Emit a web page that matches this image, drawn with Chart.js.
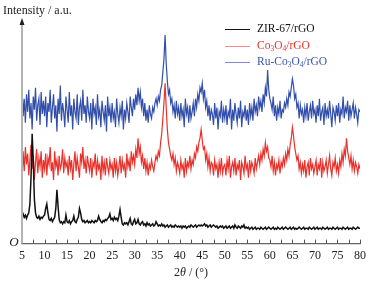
<!DOCTYPE html>
<html lang="en">
<head>
    <meta charset="UTF-8">
    <title>XRD</title>
    <style>
        body{margin:0; background:#fff;}
        #wrap{width:371px; height:282px; position:relative;}
    </style>
</head>
<body>
    <div id="wrap">
        <canvas id="myChart" width="371" height="282"></canvas>
    </div>

    <script src="https://cdn.jsdelivr.net/npm/chart.js"></script>

    <script>
        // 2theta from 5 to 80 deg, step 0.25
        const theta_start = 5;
        const theta_step = 0.25;

        const series_names = ['ZIR-67/rGO', 'Co₃O₄/rGO', 'Ru-Co₃O₄/rGO'];
        const tick_labels = [5, 10, 15, 20, 25, 30, 35, 40, 45, 50, 55, 60, 65, 70, 75, 80];

        const zir_list = [
            12, 13.5, 12, 13, 11.5, 13, 14, 18, 30, 50, 38, 20, 14, 12, 11.5, 12.5, 11, 12, 11.5, 12.5,
            13, 16, 18, 14, 11, 10.5, 11.5, 10, 11, 12, 16, 24.5, 17, 11, 9.5, 10, 9, 10, 9.5, 13,
            10, 9.5, 10.5, 9, 10, 10.5, 12.5, 10, 9.5, 11, 12, 16, 14, 11, 10, 10.5, 9.5, 10, 10.5, 9.5,
            10, 9.5, 10.5, 10, 9.5, 10.5, 10, 10.5, 12.5, 11, 10, 9.5, 10.5, 10, 11, 10.5, 11.5, 12, 13.5, 11,
            11.5, 10.5, 12, 11, 11.5, 10.5, 12.5, 15.5, 12, 9, 8.5, 9.5, 9, 9.5, 8.5, 10, 11.5, 9, 8.5, 10,
            11, 9, 9.5, 11, 9, 8.5, 9.5, 10, 8.5, 9, 8, 9.5, 8.5, 9, 8, 8.5, 9, 8, 8.5, 10,
            9, 8, 8.5, 8, 9, 8, 8.5, 7.5, 8, 8.5, 7.5, 8, 8.5, 7.5, 8, 7.5, 8.5, 8, 7.5, 8,
            7.5, 8, 7, 8, 7.5, 8, 7, 7.5, 8, 7.5, 8.5, 8, 7.5, 8, 8.5, 7.5, 8, 8.5, 8, 8.5,
            8, 8.5, 9, 8, 8.5, 7.5, 8, 8.5, 7.5, 8, 8.5, 8, 7.5, 8, 7, 7.5, 8, 7.5, 8, 7,
            7.5, 8, 7, 7.5, 8, 7, 7.5, 8, 7, 8.5, 7.5, 7, 8, 7.5, 7, 8, 7.5, 8.5, 7, 7.5,
            7, 7.5, 6.5, 7, 7.5, 6.5, 7, 7.5, 6.5, 7, 7, 6.5, 7.5, 7, 6.5, 7, 7.5, 6.5, 7, 7.5,
            7, 6.5, 7, 7.5, 6.5, 7, 6.5, 7.5, 7, 6.5, 7, 7.5, 6.5, 7, 7.5, 7, 6.5, 7, 7.5, 6.5,
            7, 7.5, 6.5, 7, 6.5, 7, 7.5, 7, 6.5, 7, 7.5, 6.5, 7, 7, 6.5, 7.5, 7, 6.5, 7, 7.5,
            6.5, 7, 7.5, 6.5, 7, 7, 6.5, 7.5, 7, 6.5, 7, 7.5, 6.5, 7, 7, 6.5, 7.5, 7, 6.5, 7,
            7.5, 6.5, 7, 7, 6.5, 7.5, 7, 6.5, 7, 7.5, 6.5, 7, 7, 6.5, 7.5, 7, 6.5, 7, 7.5, 7,
            7
        ];

        const co3o4_list = [
            30, 42, 33, 44, 36, 41, 31, 38, 45, 34, 40, 29, 37, 43, 32, 39, 35, 42, 30, 38,
            34, 41, 31, 39, 36, 44, 33, 37, 29, 42, 35, 38, 31, 40, 34, 36, 43, 32, 39, 35,
            37, 31, 40, 34, 38, 29, 36, 42, 33, 39, 35, 30, 41, 37, 44, 34, 38, 32, 40, 36,
            33, 39, 30, 37, 35, 41, 31, 38, 34, 36, 29, 40, 33, 37, 31, 39, 35, 32, 38, 34,
            36, 30, 39, 33, 37, 31, 35, 40, 32, 38, 34, 36, 30, 41, 35, 38, 33, 42, 37, 40,
            36, 43, 39, 48, 41, 44, 37, 40, 34, 39, 33, 37, 31, 36, 34, 38, 35, 33, 37, 40,
            38, 42, 40, 46, 50, 57, 64, 73, 62, 52, 46, 43, 40, 38, 41, 36, 39, 33, 37, 35,
            32, 38, 34, 36, 30, 39, 33, 37, 35, 40, 34, 38, 36, 41, 39, 44, 42, 46, 48, 52,
            47, 43, 44, 38, 41, 35, 39, 33, 37, 36, 31, 38, 34, 36, 30, 37, 33, 39, 32, 35,
            36, 31, 38, 34, 40, 30, 35, 37, 33, 39, 31, 36, 34, 38, 29, 37, 35, 32, 40, 34,
            36, 30, 38, 33, 37, 35, 32, 39, 34, 37, 40, 36, 41, 38, 43, 40, 46, 42, 44, 39,
            38, 35, 40, 33, 37, 31, 36, 34, 38, 32, 37, 35, 39, 36, 41, 38, 43, 40, 45, 48,
            53, 49, 44, 41, 38, 40, 34, 37, 32, 36, 33, 38, 30, 35, 37, 31, 39, 34, 36, 32,
            35, 38, 31, 36, 34, 39, 30, 37, 33, 35, 38, 32, 36, 40, 34, 31, 37, 35, 39, 33,
            36, 32, 38, 35, 41, 37, 43, 40, 48, 42, 39, 36, 40, 34, 38, 33, 37, 35, 32, 36,
            34
        ];

        const ru_list = [
            72, 58, 66, 55, 68, 60, 70, 57, 64, 52, 67, 61, 71, 56, 63, 66, 54, 69, 59, 65,
            58, 67, 53, 64, 60, 70, 55, 62, 68, 57, 63, 51, 66, 59, 72, 56, 64, 60, 53, 67,
            61, 55, 69, 58, 63, 52, 66, 60, 57, 68, 54, 62, 65, 56, 70, 59, 63, 55, 67, 60,
            57, 64, 52, 66, 59, 62, 54, 68, 58, 61, 53, 65, 60, 56, 63, 51, 67, 58, 62, 55,
            64, 57, 60, 53, 66, 59, 55, 62, 58, 65, 52, 61, 57, 64, 60, 55, 67, 62, 58, 66,
            61, 68, 63, 71, 65, 69, 62, 66, 58, 64, 56, 61, 55, 63, 59, 57, 62, 60, 64, 66,
            63, 67, 65, 70, 72, 78, 84, 95, 82, 74, 68, 70, 64, 66, 60, 63, 57, 65, 59, 62,
            56, 64, 58, 61, 53, 66, 59, 62, 55, 63, 57, 60, 64, 58, 66, 62, 68, 65, 71, 69,
            73, 66, 70, 62, 65, 58, 63, 56, 61, 59, 54, 64, 57, 62, 52, 60, 58, 65, 55, 61,
            57, 63, 54, 60, 58, 66, 52, 61, 56, 64, 59, 55, 62, 57, 65, 53, 60, 58, 63, 56,
            61, 54, 64, 58, 62, 56, 66, 60, 63, 58, 67, 62, 65, 60, 68, 64, 71, 67, 79, 70,
            66, 64, 61, 67, 58, 63, 56, 62, 59, 65, 57, 61, 60, 64, 62, 66, 63, 69, 67, 71,
            75, 72, 66, 68, 62, 64, 57, 63, 59, 61, 55, 62, 58, 64, 56, 60, 63, 57, 65, 59,
            61, 55, 63, 58, 66, 56, 60, 62, 54, 64, 58, 61, 57, 65, 59, 53, 62, 60, 56, 63,
            58, 64, 55, 61, 59, 67, 57, 62, 60, 65, 56, 63, 58, 61, 64, 57, 62, 59, 55, 61,
            60
        ];

        const line_colors = ['#111111', 'rgba(232,38,32,0.95)', 'rgba(38,68,165,0.95)'];
        const text_colors = ['#111111', '#e8322d', '#3a55b0'];
        const legend_line_colors = ['#111111', '#f38a86', '#7d8bd0'];

        function to_points(list){
            return list.map((v, i) => ({x: theta_start + i * theta_step, y: v}));
        }

        const serif = '"Liberation Serif", "DejaVu Serif", serif';

        // draw a label where ₀-₉ become small lowered digits
        function draw_sub_text(c, text, x, y, size){
            const subs = '₀₁₂₃₄₅₆₇₈₉';
            for (const ch of text){
                const k = subs.indexOf(ch);
                if (k >= 0){
                    c.font = (size * 0.65) + 'px ' + serif;
                    c.fillText(String(k), x, y + size * 0.28);
                    x += c.measureText(String(k)).width;
                } else {
                    c.font = size + 'px ' + serif;
                    c.fillText(ch, x, y);
                    x += c.measureText(ch).width;
                }
            }
        }

        const decor = {
            id: 'decor',
            afterDatasetsDraw(chart){
                const c = chart.ctx;
                const a = chart.chartArea;
                const xs = chart.scales.x;
                c.save();

                // y axis with arrow
                c.strokeStyle = '#b4b4b4';
                c.lineWidth = 2;
                c.beginPath();
                c.moveTo(a.left, a.bottom);
                c.lineTo(a.left, a.top - 2);
                c.stroke();
                c.fillStyle = '#222';
                c.beginPath();
                c.moveTo(a.left, a.top - 6);
                c.lineTo(a.left - 2.5, a.top + 1);
                c.lineTo(a.left + 2.5, a.top + 1);
                c.closePath();
                c.fill();

                // inner ticks every 2.5 deg
                c.strokeStyle = '#555';
                c.lineWidth = 1;
                for (let v = 7.5; v <= 80; v += 2.5){
                    const px = Math.round(xs.getPixelForValue(v)) + 0.5;
                    c.beginPath();
                    c.moveTo(px, a.bottom);
                    c.lineTo(px, a.bottom - 4);
                    c.stroke();
                }

                // texts
                c.fillStyle = '#222';
                c.textBaseline = 'middle';
                c.textAlign = 'left';
                c.font = '12px ' + serif;
                c.fillText('Intensity / a.u.', 3, 11);

                c.font = 'italic 13px ' + serif;
                c.textAlign = 'center';
                c.fillText('O', a.left - 8, a.bottom - 1);

                // x title: 2θ / (°)
                c.textAlign = 'left';
                const p1 = '2', p2 = 'θ', p3 = ' / (°)';
                c.font = '12px ' + serif;
                const w1 = c.measureText(p1).width, w3 = c.measureText(p3).width;
                c.font = 'italic 12px ' + serif;
                const w2 = c.measureText(p2).width;
                let tx = (a.left + a.right) / 2 - (w1 + w2 + w3) / 2;
                const ty = 273;
                c.font = '12px ' + serif;
                c.fillText(p1, tx, ty);
                c.font = 'italic 12px ' + serif;
                c.fillText(p2, tx + w1, ty);
                c.font = '12px ' + serif;
                c.fillText(p3, tx + w1 + w2, ty);

                // legend
                const rows = [29, 46, 62];
                chart.data.datasets.forEach((ds, i) => {
                    c.strokeStyle = legend_line_colors[i];
                    c.lineWidth = 1;
                    c.beginPath();
                    c.moveTo(225, rows[i] + 0.5);
                    c.lineTo(250, rows[i] + 0.5);
                    c.stroke();
                    c.fillStyle = text_colors[i];
                    draw_sub_text(c, ds.label, 257, rows[i], 11.5);
                });

                c.restore();
            }
        };

        const ctx = document.getElementById('myChart');

        let configs = {
            type: 'line',
            data: {
                datasets: [
                    {label: series_names[0], data: to_points(zir_list), borderColor: line_colors[0], borderWidth: 1.5},
                    {label: series_names[1], data: to_points(co3o4_list), borderColor: line_colors[1], borderWidth: 1.2},
                    {label: series_names[2], data: to_points(ru_list), borderColor: line_colors[2], borderWidth: 1.2}
                ]
            },
            options: {
                responsive: false,
                animation: false,
                layout: {padding: {left: 22, right: 9, top: 24, bottom: 14}},
                elements: {
                    point: {radius: 0},
                    line: {tension: 0}
                },
                plugins: {
                    legend: {display: false},
                    tooltip: {enabled: false}
                },
                scales: {
                    x: {
                        type: 'linear',
                        min: 5,
                        max: 80,
                        afterBuildTicks: (s) => { s.ticks = tick_labels.map(v => ({value: v})); },
                        ticks: {
                            color: '#222',
                            padding: 5,
                            maxRotation: 0,
                            font: {family: serif, size: 12}
                        },
                        grid: {display: true, drawOnChartArea: false, drawTicks: false},
                        border: {display: true, color: '#666', width: 1.3}
                    },
                    y: {
                        display: false,
                        min: 0,
                        max: 100
                    }
                }
            },
            plugins: [decor]
        };

        let myChart = new Chart(ctx, configs);
    </script>
</body>
</html>
